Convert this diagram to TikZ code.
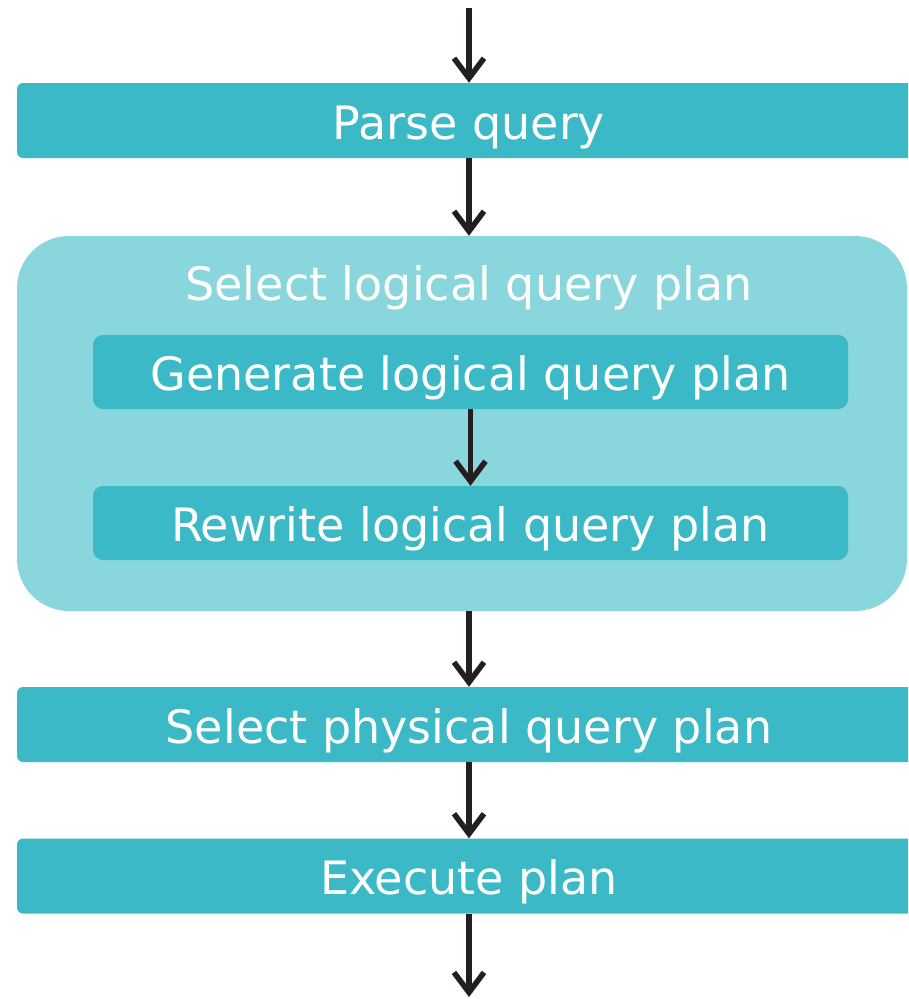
\documentclass[tikz,border=0pt]{standalone}
\usepackage{fontspec}
\setmainfont{DejaVu Sans}
\usetikzlibrary{arrows.meta,positioning}
\definecolor{stagecol}{HTML}{3CB9C6}
\definecolor{groupcol}{HTML}{89D6DC}
\definecolor{arrowcol}{HTML}{231F20}
\tikzset{
    stagebox/.style ={
        shape=rectangle,
        rounded corners=6pt,
        fill=stagecol,
        text=white,
        minimum width=904pt,
        minimum height=75pt,
        text height=37pt,
        text depth=0pt,
        font=\fontsize{46}{52}\selectfont
    },
    subbox/.style ={
        stagebox,
        rounded corners=10pt,
        minimum width=755pt,
        minimum height=74pt
    },
    groupbox/.style ={
        shape=rectangle,
        rounded corners=52pt,
        fill=groupcol,
        minimum width=890pt,
        minimum height=375pt
    },
    flow/.style ={
        draw=arrowcol,
        line width=5.5pt,
        -{Straight Barb[length=20pt,width=30pt,line width=5.5pt]}
    }
}
\begin{document}
\begin{tikzpicture}[x=1pt,y=-1pt]
    \useasboundingbox (0,0) rectangle (908,999);
    \clip (0,0) rectangle (908,999);
    \coordinate (in) at (469,8);
    \coordinate (out) at (469,997);
    \node[stagebox] (parse) at (469,120.5) {Parse query};
    \node[groupbox] (logical) at (462,423.5) {};
    \node[anchor=base,text=white,font=\fontsize{46}{52}\selectfont] (logtitle) at (469,300) {Select logical query plan};
    \node[subbox] (generate) at (470.5,372) {Generate logical query plan};
    \node[subbox] (rewrite) at (470.5,523) {Rewrite logical query plan};
    \node[stagebox] (physical) at (469,724.5) {Select physical query plan};
    \node[stagebox] (execute) at (469,876) {Execute plan};
    \draw[flow] (in) -- (parse);
    \draw[flow] (parse) -- (logical.north -| parse);
    \draw[flow] (generate) -- (rewrite);
    \draw[flow] (logical.south -| physical.north) -- (physical);
    \draw[flow] (physical) -- (execute);
    \draw[flow] (execute) -- (out);
\end{tikzpicture}
\end{document}
